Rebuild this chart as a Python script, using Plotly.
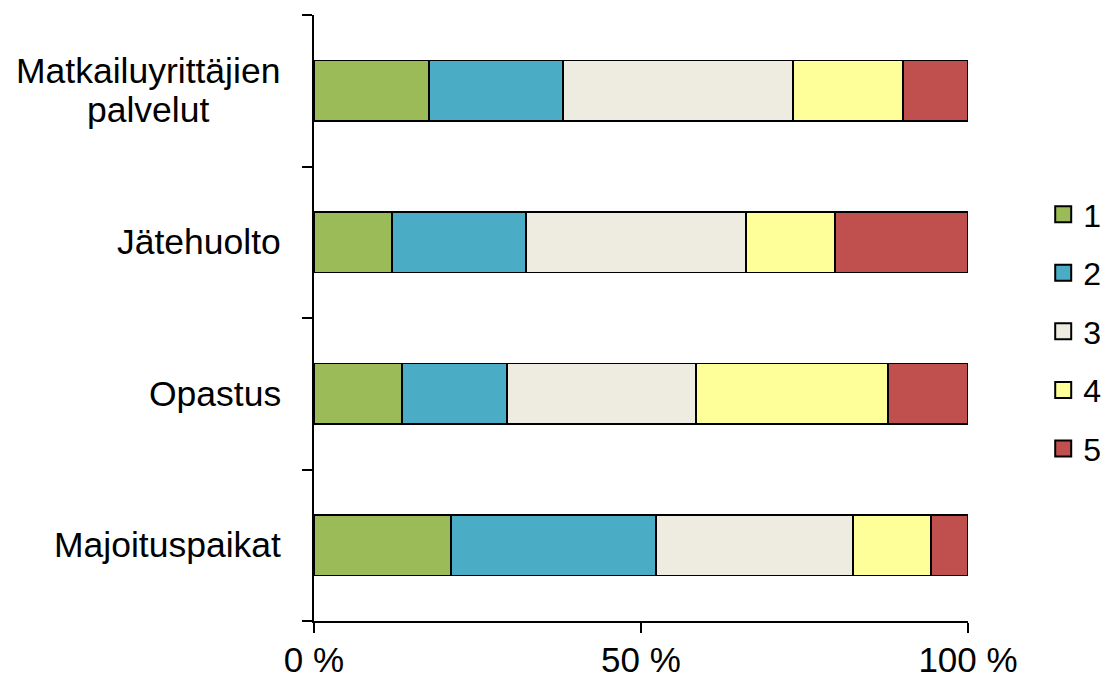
import plotly.graph_objects as go

categories = ["Matkailuyrittäjien<br>palvelut", "Jätehuolto", "Opastus", "Majoituspaikat"]
series_names = ["1", "2", "3", "4", "5"]
values_1 = [17.6, 11.9, 13.4, 21.0]
values_2 = [20.5, 20.5, 16.1, 31.3]
values_3 = [35.2, 33.6, 28.9, 30.1]
values_4 = [16.8, 13.7, 29.4, 11.9]
values_5 = [9.9, 20.3, 12.2, 5.7]
x_tickvals = [0, 50, 100]
x_ticktext = ["0 %", "50 %", "100 %"]

colors = ["#9BBB59", "#4BACC6", "#EEECE1", "#FFFF99", "#C0504D"]
all_values = [values_1, values_2, values_3, values_4, values_5]
FONT = "Liberation Sans, Arial, sans-serif"
LABEL_SIZE = 35.5
LINE_STEP = 39

fig = go.Figure()
for name, vals, col in zip(series_names, all_values, colors):
    fig.add_trace(go.Bar(
        y=categories, x=vals, name=name, orientation="h",
        marker=dict(color=col, line=dict(color="black", width=1.8)),
        showlegend=False, hoverinfo="x+y",
    ))
for i, (name, col) in enumerate(zip(series_names, colors)):
    fig.add_trace(go.Scatter(
        x=[None], y=[None], mode="markers", name=name, legendgroup=str(i),
        marker=dict(symbol="square", size=16, color=col, line=dict(color="black", width=2)),
        showlegend=True,
    ))

for cat in categories:
    lines = cat.split("<br>")
    n = len(lines)
    for j, line in enumerate(lines):
        if n > 1:
            fig.add_annotation(
                x=0, xref="paper", y=cat, yref="y", text=line, showarrow=False,
                xanchor="center", yanchor="middle",
                xshift=-31 - 135, yshift=((n - 1) / 2 - j) * LINE_STEP,
                font=dict(family=FONT, size=LABEL_SIZE, color="black"),
            )
        else:
            fig.add_annotation(
                x=0, xref="paper", y=cat, yref="y", text=line, showarrow=False,
                xanchor="right", yanchor="middle", xshift=-31,
                font=dict(family=FONT, size=LABEL_SIZE, color="black"),
            )

fig.update_layout(
    width=1103, height=674,
    margin=dict(l=306, r=143, t=7, b=61, autoexpand=False),
    paper_bgcolor="white", plot_bgcolor="white",
    barmode="stack", bargap=0.6,
    font=dict(family=FONT, size=LABEL_SIZE, color="black"),
    legend=dict(
        x=1.115, xanchor="left", y=0.478, yanchor="middle",
        traceorder="grouped", tracegroupgap=14,
        font=dict(family=FONT, size=32, color="black"),
        bgcolor="rgba(0,0,0,0)",
    ),
    xaxis=dict(
        range=[0, 100], tickvals=x_tickvals, ticktext=x_ticktext,
        showline=True, linecolor="black", linewidth=2,
        ticks="outside", ticklen=10, tickwidth=2, tickcolor="black",
        ticklabelstandoff=-3,
        showgrid=False, zeroline=False,
        tickfont=dict(family=FONT, size=35, color="black"),
    ),
    yaxis=dict(
        categoryorder="array", categoryarray=categories[::-1],
        showline=True, linecolor="black", linewidth=2,
        ticks="outside", ticklen=10, tickwidth=2, tickcolor="black",
        tickson="boundaries", showticklabels=False,
        showgrid=False, zeroline=False,
    ),
)

fig.write_html("out.html")
